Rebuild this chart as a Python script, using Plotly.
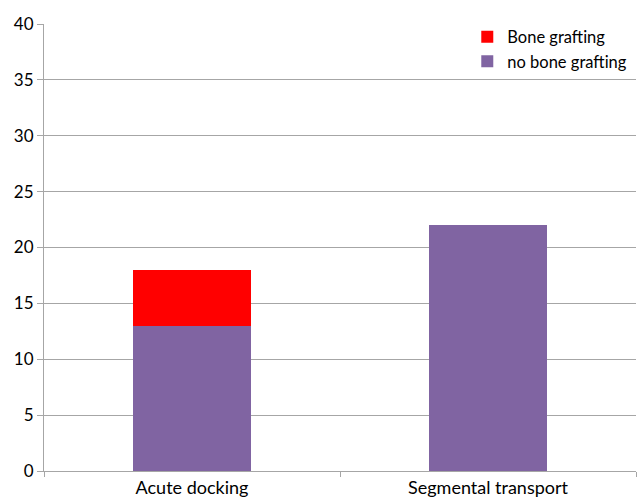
import plotly.graph_objects as go

categories = ["Acute docking", "Segmental transport"]
no_bone_grafting = [13, 22]
bone_grafting = [5, 0]

y_ticks = [0, 5, 10, 15, 20, 25, 30, 35, 40]

font_family = "Lato, Open Sans, sans-serif"
grid_col = "#A6A6A6"

fig = go.Figure()
fig.add_trace(go.Bar(
    x=categories, y=no_bone_grafting, name="no bone grafting",
    marker=dict(color="#8064A2", line=dict(width=0)),
))
fig.add_trace(go.Bar(
    x=categories, y=bone_grafting, name="Bone grafting",
    marker=dict(color="#FF0000", line=dict(width=0)),
))

fig.update_layout(
    barmode="stack",
    bargap=0.6,
    width=638, height=503,
    margin=dict(l=44, r=2, t=24, b=32, autoexpand=False),
    plot_bgcolor="white",
    paper_bgcolor="white",
    font=dict(family=font_family, size=17, color="#000000"),
    legend=dict(
        x=0.715, y=1.01, xanchor="left", yanchor="top",
        traceorder="reversed",
        font=dict(size=16.5),
        itemwidth=30,
        bgcolor="rgba(0,0,0,0)",
        tracegroupgap=0,
    ),
    showlegend=True,
)

fig.update_yaxes(
    range=[0, 40],
    tickvals=y_ticks,
    showgrid=True, gridcolor=grid_col, gridwidth=1,
    showline=True, linecolor=grid_col, linewidth=1,
    ticks="outside", ticklen=6, tickcolor=grid_col,
    zeroline=False, automargin=False,
    tickfont=dict(size=17),
)
fig.update_xaxes(
    showline=True, linecolor=grid_col, linewidth=1,
    ticks="outside", ticklen=5, tickcolor=grid_col,
    tickson="boundaries", automargin=False,
    tickfont=dict(size=18),
)

fig.write_html("out.html")
